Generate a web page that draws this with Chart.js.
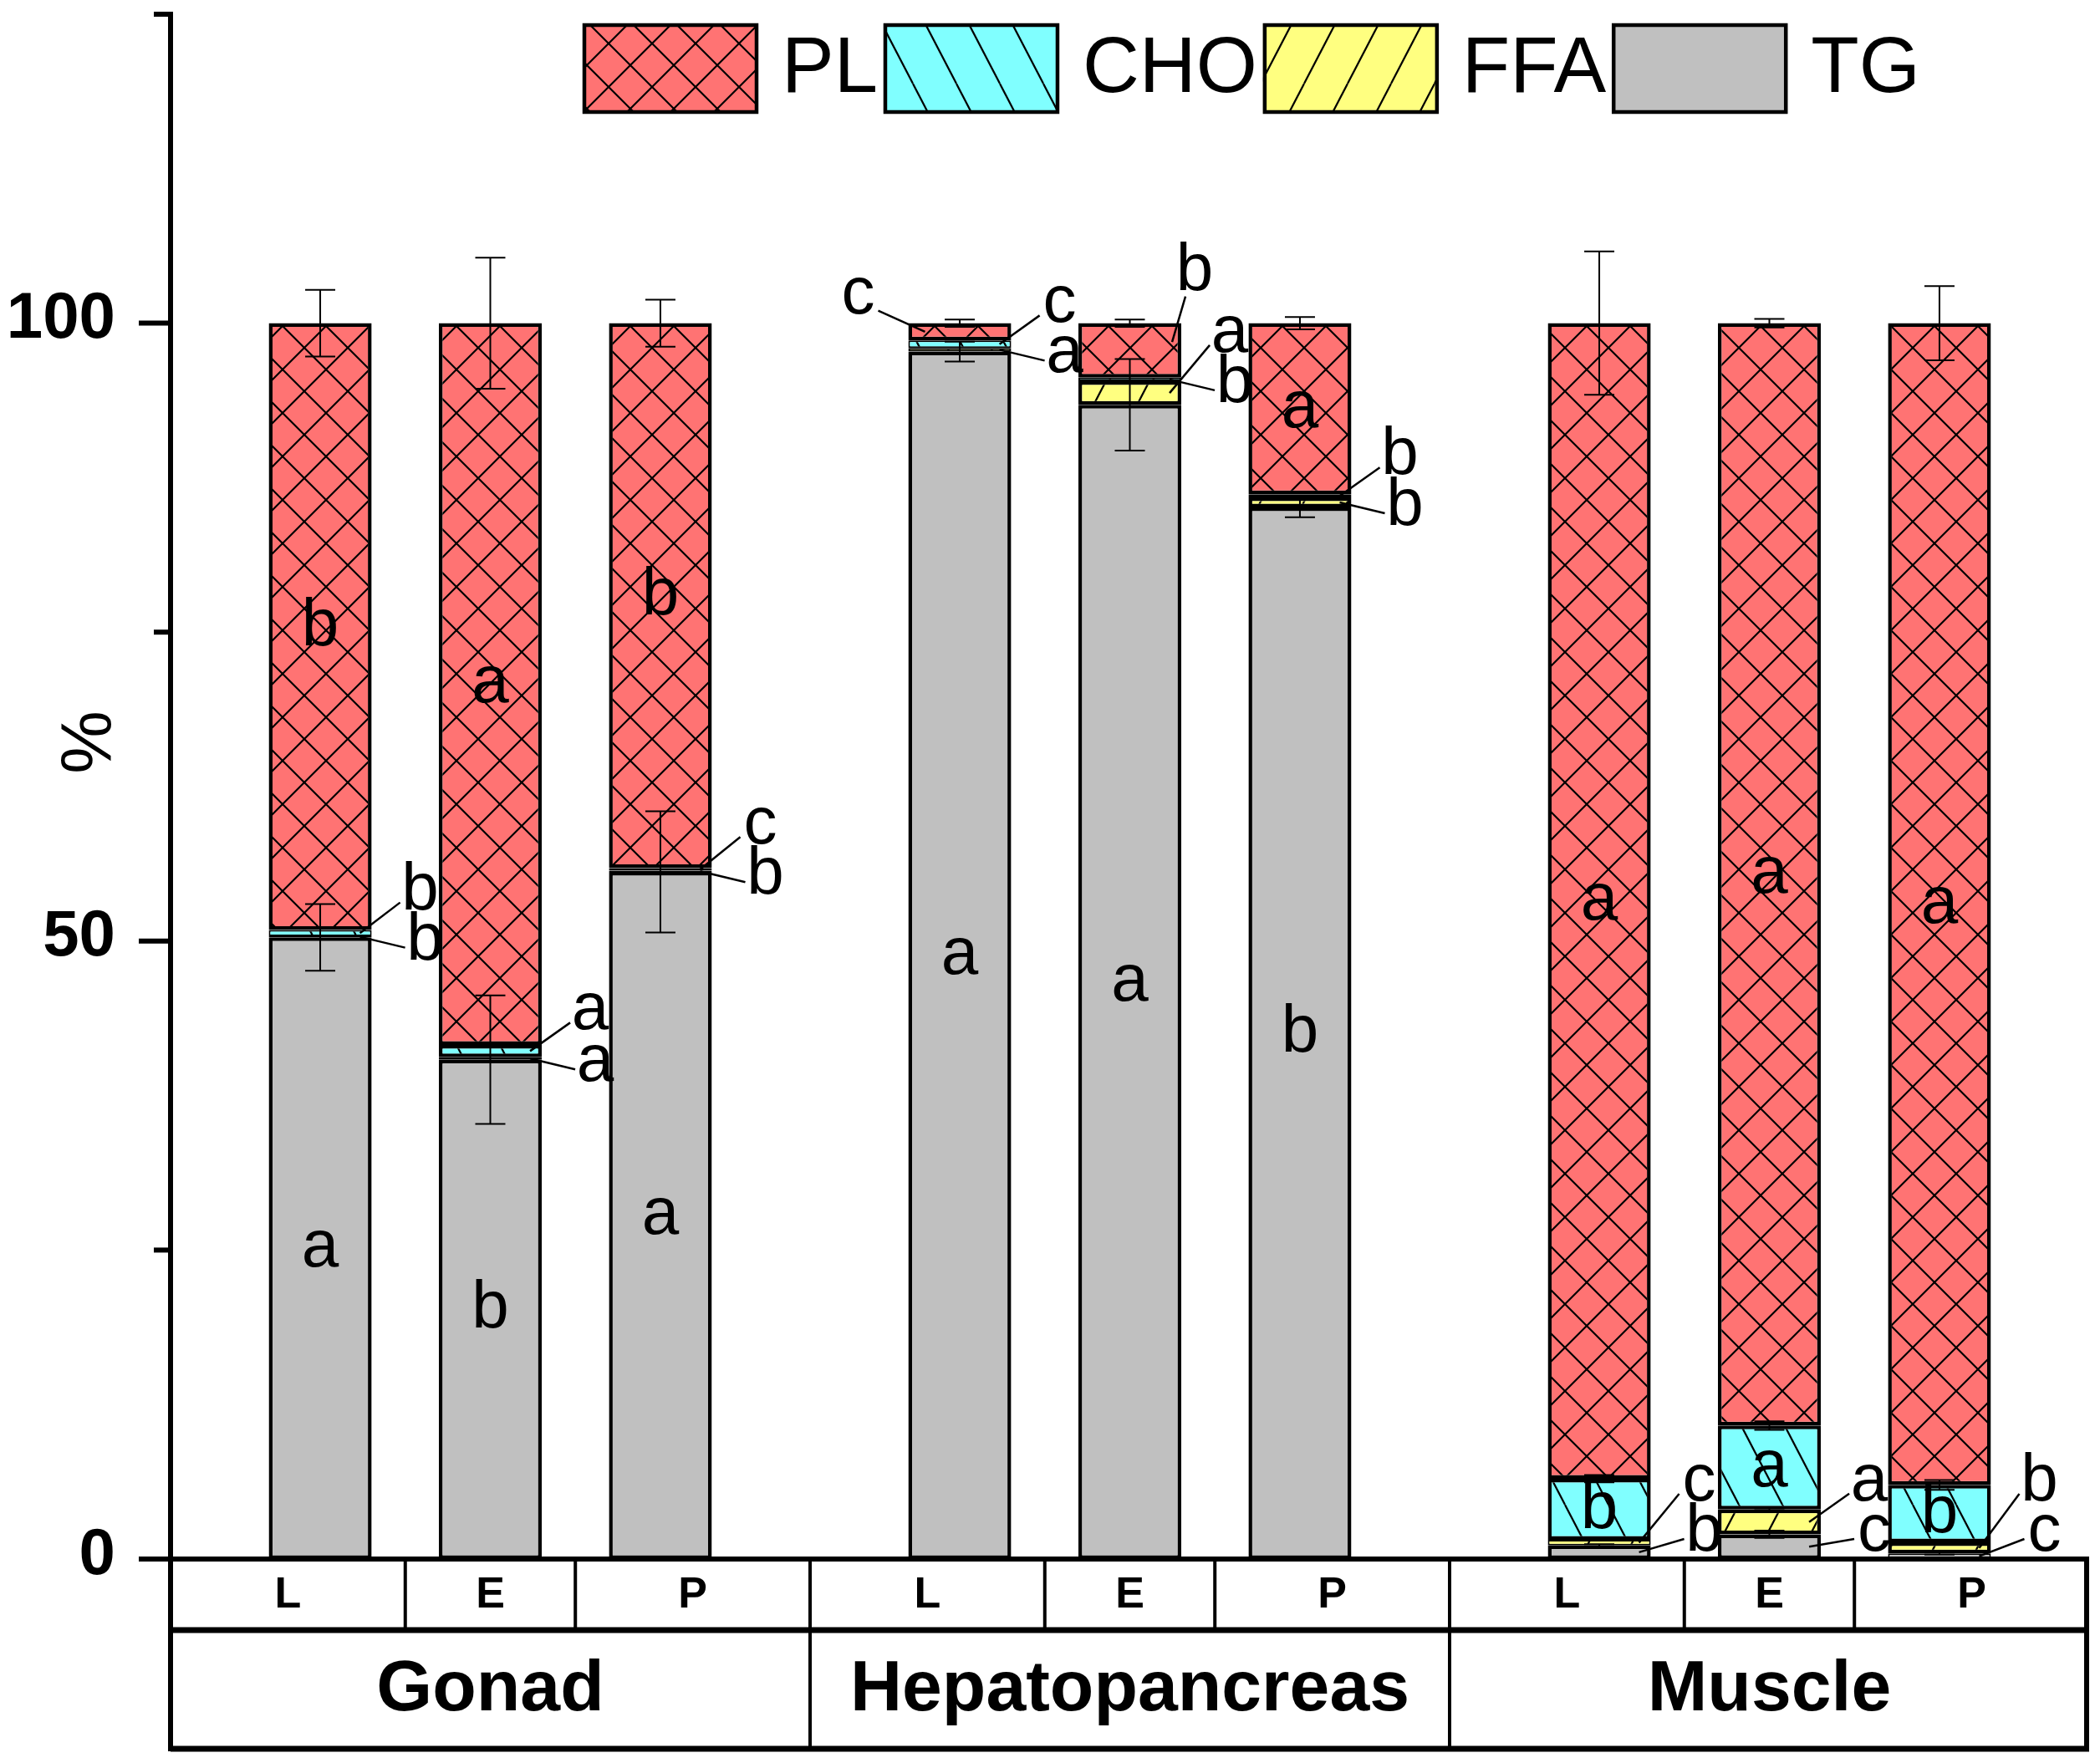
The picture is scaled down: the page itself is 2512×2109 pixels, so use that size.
<!DOCTYPE html>
<html>
<head>
<meta charset="utf-8">
<script src="https://cdn.jsdelivr.net/npm/chart.js@4.4.1/dist/chart.umd.min.js"></script>
<style>
  html, body { margin: 0; padding: 0; background: #fff; }
  canvas { display: block; }
</style>
</head>
<body>
<canvas id="lipidChart" width="2512" height="2109"></canvas>
<script>
// ---- data (bars in order: Gonad L,E,P / Hepatopancreas L,E,P / Muscle L,E,P) ----
const tissues = ['Gonad', 'Hepatopancreas', 'Muscle'];
const stages = ['L', 'E', 'P'];
const yTicks = [0, 25, 50, 75, 100, 125];
const yTickLabels = ['0', '', '50', '', '100', ''];

const tgValues  = [50.3, 40.4, 55.6, 97.7, 93.4, 85.1, 1.1, 2.0, 0.45];
const ffaValues = [0.1, 0.2, 0.1, 0.3, 1.9, 0.8, 0.45, 2.0, 0.9];
const choValues = [0.5, 1.0, 0.2, 0.6, 0.3, 0.25, 4.95, 6.8, 4.65];
const plValues  = [49.1, 58.4, 44.1, 1.4, 4.4, 13.85, 93.5, 89.2, 94.0];

const tgErrors  = [2.7, 5.2, 4.9, 0.8, 3.7, 0.8, 0.1, 0.3, 0.1];
const ffaErrors = [0, 0, 0, 0, 0, 0, 0, 0.1, 0.1];
const choErrors = [0, 0, 0, 0, 0, 0, 0.3, 0.35, 0.4];
const plErrors  = [2.7, 5.3, 1.9, 0.3, 0.3, 0.5, 5.8, 0.35, 3.0];

// significance letters and where they sit (in = inside, ru/rl = right upper/lower, rt = right top, lu = left upper)
const tgLetters  = ['a', 'b', 'a', 'a', 'a', 'b', 'b', 'c', 'c'];
const ffaLetters = ['b', 'a', 'b', 'a', 'a', 'b', 'c', 'a', 'b'];
const choLetters = ['b', 'a', 'c', 'c', 'b', 'b', 'b', 'a', 'b'];
const plLetters  = ['b', 'a', 'b', 'c', 'b', 'a', 'a', 'a', 'a'];
const tgPlace  = ['in', 'in', 'in', 'in', 'in', 'in', 'rl', 'rl', 'rl'];
const ffaPlace = ['rl', 'rl', 'rl', 'rl', 'ru', 'rl', 'ru', 'ru', 'ru'];
const choPlace = ['ru', 'ru', 'ru', 'ru', 'rl', 'ru', 'in', 'in', 'in'];
const plPlace  = ['in', 'in', 'in', 'lu', 'rt', 'in', 'in', 'in', 'in'];

const FONT = "'Liberation Sans', Arial, sans-serif";
const GROUP_STEP = 3.76; // distance between first bars of two tissues, in bar slots

function barPos(k) {
  return Math.floor(k / 3) * GROUP_STEP + (k % 3);
}

// hatch patterns like Origin
function makePattern(bg, w, h, kind) {
  const c = document.createElement('canvas');
  c.width = w; c.height = h;
  const g = c.getContext('2d');
  g.fillStyle = bg;
  g.fillRect(0, 0, w, h);
  g.strokeStyle = '#000';
  g.lineWidth = 2.2;
  g.beginPath();
  [-w, 0, w].forEach(dx => {
    if (kind === 'back' || kind === 'cross') { g.moveTo(dx, 0); g.lineTo(dx + w, h); }
    if (kind === 'fwd' || kind === 'cross') { g.moveTo(dx, h); g.lineTo(dx + w, 0); }
  });
  g.stroke();
  return g.createPattern(c, 'repeat');
}

const plFill  = makePattern('#FF7373', 52, 52, 'cross');
const choFill = makePattern('#80FFFF', 52, 100, 'back');
const ffaFill = makePattern('#FFFF80', 52, 100, 'fwd');
const tgFill  = '#C0C0C0';

function series(label, values, errors, letters, place, fill) {
  return {
    label: label,
    data: values.map((v, k) => ({ x: barPos(k), y: v })),
    errors: errors,
    letters: letters,
    place: place,
    backgroundColor: fill,
    borderColor: '#000',
    // thin slivers get a thinner outline so their fill still shows
    borderWidth: (c) => (c.raw && c.raw.y < 0.8 ? 2 : 4.5),
    borderSkipped: false,
    barPercentage: 0.605,
    categoryPercentage: 1
  };
}

const extras = {
  id: 'extras',
  afterDatasetsDraw(chart) {
    const ctx = chart.ctx;
    const ys = chart.scales.y;
    const sets = chart.data.datasets;
    const baseY = ys.getPixelForValue(0);
    ctx.save();

    // error bars at the top of each stacked segment
    ctx.strokeStyle = '#000';
    ctx.lineWidth = 2;
    sets.forEach((ds, d) => {
      chart.getDatasetMeta(d).data.forEach((bar, k) => {
        const err = ds.errors[k];
        if (!err) return;
        let top = 0;
        for (let j = 0; j <= d; j++) top += sets[j].data[k].y;
        const y1 = ys.getPixelForValue(top + err);
        const y2 = ys.getPixelForValue(top - err);
        ctx.beginPath();
        ctx.moveTo(bar.x, y1); ctx.lineTo(bar.x, y2);
        ctx.moveTo(bar.x - 18, y1); ctx.lineTo(bar.x + 18, y1);
        ctx.moveTo(bar.x - 18, y2); ctx.lineTo(bar.x + 18, y2);
        ctx.stroke();
      });
    });

    // letters
    ctx.font = '80px ' + FONT;
    ctx.fillStyle = '#000';
    ctx.textAlign = 'center';
    ctx.textBaseline = 'middle';
    ctx.lineWidth = 2.5;
    const n = sets[0].data.length;
    for (let k = 0; k < n; k++) {
      let lowY = Infinity;
      const order = sets.map((ds, d) => d).sort((a, b) => (sets[a].place[k] === 'rl' ? -1 : 0) - (sets[b].place[k] === 'rl' ? -1 : 0));
      order.forEach(d => {
        const ds = sets[d];
        const bar = chart.getDatasetMeta(d).data[k];
        const place = ds.place[k];
        const txt = ds.letters[k];
        const segY = (bar.y + bar.base) / 2;
        const right = bar.x + bar.width / 2;
        const left = bar.x - bar.width / 2;
        let lx, ly, from, to;
        if (place === 'in') {
          ctx.fillText(txt, bar.x, segY);
          return;
        } else if (place === 'rl') {
          lx = right + 64;
          ly = Math.min(segY + 5, baseY - 32);
          lowY = ly;
          from = [right - 14, segY]; to = [lx - 24, ly + 8];
        } else if (place === 'ru') {
          lx = right + 58;
          ly = Math.min(segY - 48, lowY - 60);
          from = [right - 14, segY]; to = [lx - 24, ly + 14];
        } else if (place === 'rt') {
          lx = right + 16;
          ly = bar.y - 62;
          from = [right - 11, segY - 10]; to = [lx - 11, ly + 30];
        } else if (place === 'lu') {
          lx = left - 60;
          ly = bar.y - 34;
          from = [left + 20, segY]; to = [lx + 24, ly + 19];
        }
        ctx.beginPath();
        ctx.moveTo(from[0], from[1]);
        ctx.lineTo(to[0], to[1]);
        ctx.stroke();
        ctx.fillText(txt, lx, ly);
      });
    }
    ctx.restore();
  },
  afterDraw(chart) {
    const ctx = chart.ctx;
    const xs = chart.scales.x;
    const ys = chart.scales.y;
    const area = chart.chartArea;
    const sets = chart.data.datasets;
    ctx.save();
    ctx.strokeStyle = '#000';
    ctx.fillStyle = '#000';

    // y ticks (long at labelled values) and their labels
    ctx.lineWidth = 6;
    ctx.font = 'bold 78px ' + FONT;
    ctx.textAlign = 'right';
    ctx.textBaseline = 'middle';
    yTicks.forEach((v, i) => {
      const py = ys.getPixelForValue(v);
      const len = yTickLabels[i] ? 38 : 20;
      ctx.beginPath();
      ctx.moveTo(area.left - len, py);
      ctx.lineTo(area.left, py);
      ctx.stroke();
      if (yTickLabels[i]) ctx.fillText(yTickLabels[i], area.left - 66, py - 4);
    });

    // y title
    ctx.save();
    ctx.translate(110, 888);
    ctx.rotate(-Math.PI / 2);
    ctx.font = '85px ' + FONT;
    ctx.textAlign = 'center';
    ctx.textBaseline = 'middle';
    ctx.fillText('%', 0, 0);
    ctx.restore();

    // category table under the axis
    const rowTop = ys.getPixelForValue(0);
    const rowMid = rowTop + 85;
    const rowBot = rowTop + 227;
    const gLeft = g => xs.getPixelForValue(g * GROUP_STEP + 1 - GROUP_STEP / 2);
    const gRight = g => xs.getPixelForValue(g * GROUP_STEP + 1 + GROUP_STEP / 2);
    ctx.lineWidth = 6;
    ctx.beginPath();
    ctx.moveTo(area.left - 38, rowTop); ctx.lineTo(area.right, rowTop);
    ctx.stroke();
    ctx.lineWidth = 7;
    ctx.beginPath();
    ctx.moveTo(area.left, rowMid); ctx.lineTo(area.right, rowMid);
    ctx.moveTo(area.left, rowBot); ctx.lineTo(area.right, rowBot);
    ctx.stroke();
    ctx.lineWidth = 6;
    ctx.beginPath();
    ctx.moveTo(area.left, rowTop); ctx.lineTo(area.left, rowBot + 3);
    ctx.moveTo(area.right - 3, rowTop); ctx.lineTo(area.right - 3, rowBot + 3);
    ctx.stroke();
    ctx.lineWidth = 4;
    ctx.beginPath();
    tissues.forEach((t, g) => {
      if (g > 0) {
        const gx = gLeft(g);
        ctx.moveTo(gx, rowTop); ctx.lineTo(gx, rowBot);
      }
      for (let i = 0; i < stages.length - 1; i++) {
        const sx = xs.getPixelForValue(g * GROUP_STEP + i + 0.5);
        ctx.moveTo(sx, rowTop); ctx.lineTo(sx, rowMid);
      }
    });
    ctx.stroke();

    ctx.textAlign = 'center';
    ctx.textBaseline = 'middle';
    tissues.forEach((t, g) => {
      const l = gLeft(g), r = gRight(g);
      ctx.font = 'bold 52px ' + FONT;
      stages.forEach((s, i) => {
        const a = i === 0 ? l : xs.getPixelForValue(g * GROUP_STEP + i - 0.5);
        const b = i === stages.length - 1 ? r : xs.getPixelForValue(g * GROUP_STEP + i + 0.5);
        ctx.fillText(s, (a + b) / 2, rowTop + 44);
      });
      ctx.font = 'bold 86px ' + FONT;
      ctx.fillText(t, (l + r) / 2, rowMid + 72);
    });

    // legend (PL, CHO, FFA, TG)
    let lx = 697;
    ctx.font = '94px ' + FONT;
    ctx.textAlign = 'left';
    sets.slice().reverse().forEach(ds => {
      ctx.fillStyle = ds.backgroundColor;
      ctx.fillRect(lx, 28, 210, 108);
      ctx.lineWidth = 4.5;
      ctx.strokeRect(lx + 2, 30, 206, 104);
      ctx.fillStyle = '#000';
      ctx.fillText(ds.label, lx + 238, 84);
      lx += 210 + 28 + ctx.measureText(ds.label).width + 7;
    });
    ctx.restore();
  }
};

const ctx = document.getElementById('lipidChart').getContext('2d');
new Chart(ctx, {
  type: 'bar',
  data: {
    datasets: [
      series('TG', tgValues, tgErrors, tgLetters, tgPlace, tgFill),
      series('FFA', ffaValues, ffaErrors, ffaLetters, ffaPlace, ffaFill),
      series('CHO', choValues, choErrors, choLetters, choPlace, choFill),
      series('PL', plValues, plErrors, plLetters, plPlace, plFill)
    ]
  },
  options: {
    responsive: false,
    animation: false,
    devicePixelRatio: 1,
    layout: { padding: { top: 17, bottom: 244, right: 13, left: 0 } },
    plugins: { legend: { display: false }, tooltip: { enabled: false } },
    scales: {
      x: {
        type: 'linear',
        stacked: true,
        display: false,
        offset: false,
        min: 1 - GROUP_STEP / 2,
        max: 2 * GROUP_STEP + 1 + GROUP_STEP / 2
      },
      y: {
        stacked: true,
        min: 0,
        max: 125,
        afterFit(scale) { scale.width = 204; },
        afterBuildTicks(scale) { scale.ticks = yTicks.map(v => ({ value: v })); },
        ticks: { display: false },
        grid: { display: false, drawTicks: false },
        border: { display: true, width: 6, color: '#000' }
      }
    }
  },
  plugins: [extras]
});
</script>
</body>
</html>
